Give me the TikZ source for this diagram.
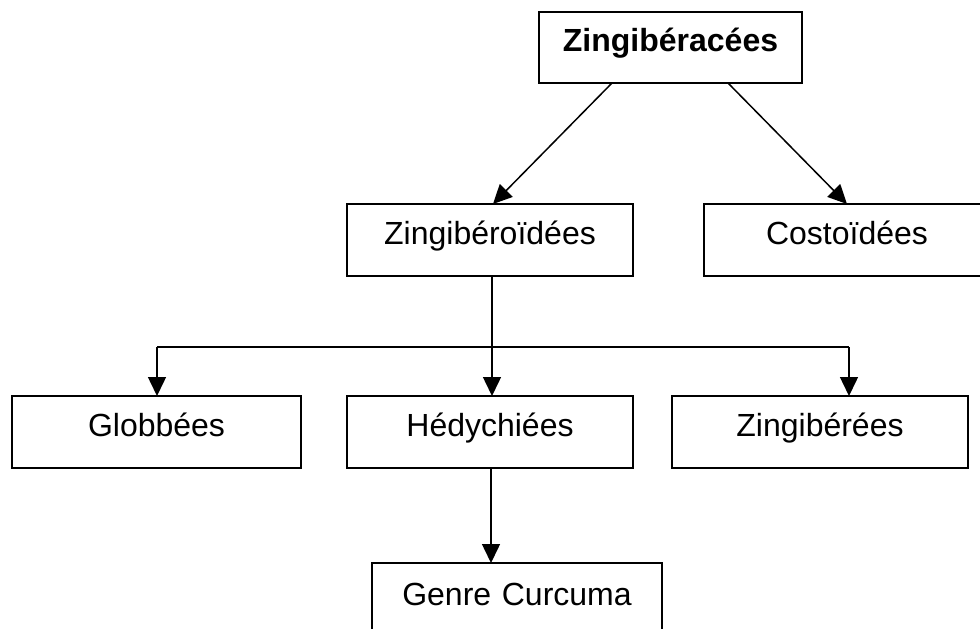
\documentclass[tikz,border=0pt]{standalone}
\usepackage{fontspec}
\setmainfont{Liberation Sans}
\usetikzlibrary{arrows.meta}
\begin{document}
\begin{tikzpicture}[x=1pt,y=-1pt,
  box/.style={draw, line width=1.8pt, inner sep=0pt, outer sep=0pt, text height=40pt, text depth=32pt,
    align=center, font=\fontsize{32}{38}\selectfont, anchor=north west},
  arr/.style={line width=1.5pt, -{Triangle[length=19pt,width=18pt]}},
  ln/.style={line width=1.5pt}]
\clip (0,0) rectangle (980,629);
\fill[white] (0,0) rectangle (980,629);
\node[box, text width=263pt, text height=39pt] (top) at (539,12) {\bfseries Zingibéracées};
\node[box, text width=286pt] (zo) at (347,204) {Zingibéroïdées};
\node[box, text width=286pt] (co) at (704,204) {Costoïdées};
\node[box, text width=289pt] (gl) at (12,396) {Globbées};
\node[box, text width=286pt] (he) at (347,396) {Hédychiées};
\node[box, text width=296pt] (zi) at (672,396) {Zingibérées};
\node[box, text width=290pt, text height=42pt, text depth=50pt] (gc) at (372,563) {Genre Curcuma};
\draw[arr] ([xshift=-58.5pt]top.south) -- ([xshift=3pt]zo.north);
\draw[arr] ([xshift=57.5pt]top.south) -- (co.north);
\coordinate (hl) at (157,347);
\coordinate (hr) at (849,347);
\coordinate (hm) at (492,347);
\draw[ln] (hl) -- (hr);
\draw[ln] ([xshift=2pt]zo.south) -- (hm);
\draw[arr] (hm) -- (hm |- he.north);
\draw[arr] (hl) -- (hl |- gl.north);
\draw[arr] (hr) -- (hr |- zi.north);
\draw[arr] ([xshift=1pt]he.south) -- ([xshift=1pt]he.south |- gc.north);
\end{tikzpicture}
\end{document}
